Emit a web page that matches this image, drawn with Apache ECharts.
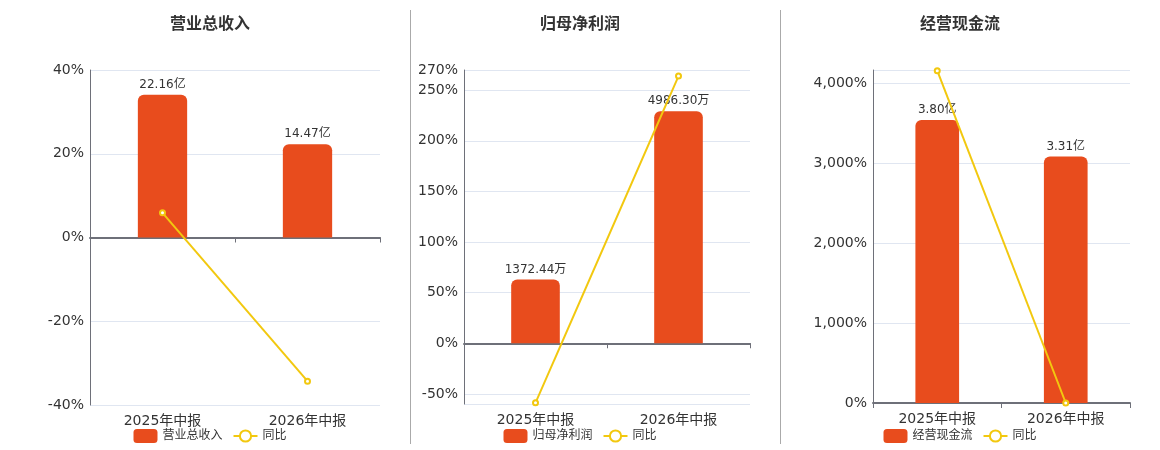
<!DOCTYPE html>
<html>
<head>
<meta charset="utf-8">
<script src="https://cdn.jsdelivr.net/npm/echarts@6/dist/echarts.min.js"></script>
<style>
  html, body { margin: 0; padding: 0; background: #fff; }
  #wrap { position: relative; width: 1160px; height: 450px; overflow: hidden; }
  .panel { position: absolute; top: 0; height: 450px; }
  .divider { position: absolute; top: 10px; width: 1px; height: 434px; background: #aaaaaa; }
</style>
</head>
<body>
<div id="wrap">
  <div id="c1" class="panel" style="left:0px;width:420px;"></div>
  <div id="c2" class="panel" style="left:400px;width:360px;"></div>
  <div id="c3" class="panel" style="left:780px;width:360px;"></div>
  <div class="divider" style="left:410px;"></div>
  <div class="divider" style="left:780px;"></div>
</div>
<script>
// ---- data ----
const categories = ['2025年中报', '2026年中报'];

const revenueTitle = '营业总收入';
const revenueValues = [22.16, 14.47];      // 亿
const revenueYoY = [5.9, -34.3];           // %

const profitTitle = '归母净利润';
const profitValues = [1372.44, 4986.30];   // 万
const profitYoY = [-58.8, 264];            // %

const cashTitle = '经营现金流';
const cashValues = [3.80, 3.31];           // 亿
const cashYoY = [4158, 0];                 // %

const yoyName = '同比';

// ---- style ----
const FONT = '"DejaVu Sans", "Noto Sans CJK SC", sans-serif';
const BAR_COLOR = '#E84C1D';
const LINE_COLOR = '#F2C80F';
const AXIS_COLOR = '#6E7079';

function fmtPct(v) {
  return Math.round(v).toLocaleString('en-US') + '%';
}

function makeOption(cfg) {
  return {
    animation: false,
    textStyle: { fontFamily: FONT },
    title: {
      text: cfg.title,
      left: 'center',
      top: 12,
      textStyle: { fontSize: 16, fontWeight: 'bold', color: '#333', fontFamily: FONT }
    },
    legend: {
      bottom: 2,
      left: 'center',
      itemWidth: 24,
      itemHeight: 14,
      itemGap: 10,
      textStyle: { fontSize: 12, color: '#333', fontFamily: FONT },
      data: [
        { name: cfg.title, icon: 'roundRect' },
        { name: yoyName }
      ]
    },
    grid: cfg.grid,
    xAxis: [
      {
        type: 'category',
        data: categories,
        axisLine: { show: true, onZero: true, lineStyle: { color: AXIS_COLOR, width: 2 } },
        axisTick: { show: true, length: 5, lineStyle: { color: AXIS_COLOR } },
        axisLabel: { show: false }
      },
      {
        type: 'category',
        data: categories,
        position: 'bottom',
        axisLine: { show: false, onZero: false },
        axisTick: { show: false },
        axisLabel: { show: true, fontSize: 14, color: '#333', margin: 9, fontFamily: FONT }
      }
    ],
    yAxis: [
      Object.assign({
        type: 'value',
        position: 'left',
        axisLine: { show: true, lineStyle: { color: AXIS_COLOR, width: 1 } },
        axisTick: { show: false },
        splitLine: { show: true, lineStyle: { color: '#E0E6F1' } },
        axisLabel: Object.assign({
          fontSize: 14, color: '#333', margin: 6, fontFamily: FONT,
          formatter: fmtPct
        }, cfg.pctLabel || {})
      }, cfg.pctAxis),
      {
        type: 'value',
        show: false,
        min: cfg.barMin,
        max: cfg.barMax,
        splitLine: { show: false }
      }
    ],
    series: [
      {
        name: cfg.title,
        type: 'bar',
        xAxisIndex: 0,
        yAxisIndex: 1,
        barWidth: '34%',
        data: cfg.bars,
        itemStyle: { color: BAR_COLOR, borderRadius: [6, 6, 0, 0] },
        label: {
          show: true,
          position: 'top',
          distance: 4,
          fontSize: 12,
          color: '#333',
          fontFamily: FONT,
          formatter: p => p.value.toFixed(2) + cfg.unit
        },
        z: 2
      },
      {
        name: yoyName,
        type: 'line',
        xAxisIndex: 0,
        yAxisIndex: 0,
        data: cfg.yoy,
        symbol: 'emptyCircle',
        symbolSize: 5,
        lineStyle: { color: LINE_COLOR, width: 2 },
        itemStyle: { color: LINE_COLOR, borderWidth: 1.5 },
        z: 10
      }
    ]
  };
}

const charts = [
  {
    el: 'c1', title: revenueTitle, unit: '亿', bars: revenueValues, yoy: revenueYoY,
    grid: { left: 90, right: 40, top: 70, bottom: 45 },
    pctAxis: { min: -40, max: 40, interval: 20 },
    barMax: 26.0, barMin: -26.0
  },
  {
    el: 'c2', title: profitTitle, unit: '万', bars: profitValues, yoy: profitYoY,
    grid: { left: 64, right: 10, top: 70, bottom: 46 },
    pctAxis: { min: -60, max: 270, splitNumber: 5 },
    pctLabel: { showMinLabel: false },
    barMax: 5875, barMin: -5875 * 60 / 270
  },
  {
    el: 'c3', title: cashTitle, unit: '亿', bars: cashValues, yoy: cashYoY,
    grid: { left: 93, right: 10, top: 70, bottom: 47 },
    pctAxis: { min: 0, max: 4166, interval: 1000 },
    pctLabel: { showMaxLabel: false },
    barMax: 4.47, barMin: 0
  }
];

charts.forEach(cfg => {
  const chart = echarts.init(document.getElementById(cfg.el), null, { renderer: 'canvas' });
  chart.setOption(makeOption(cfg));
});
</script>
</body>
</html>
